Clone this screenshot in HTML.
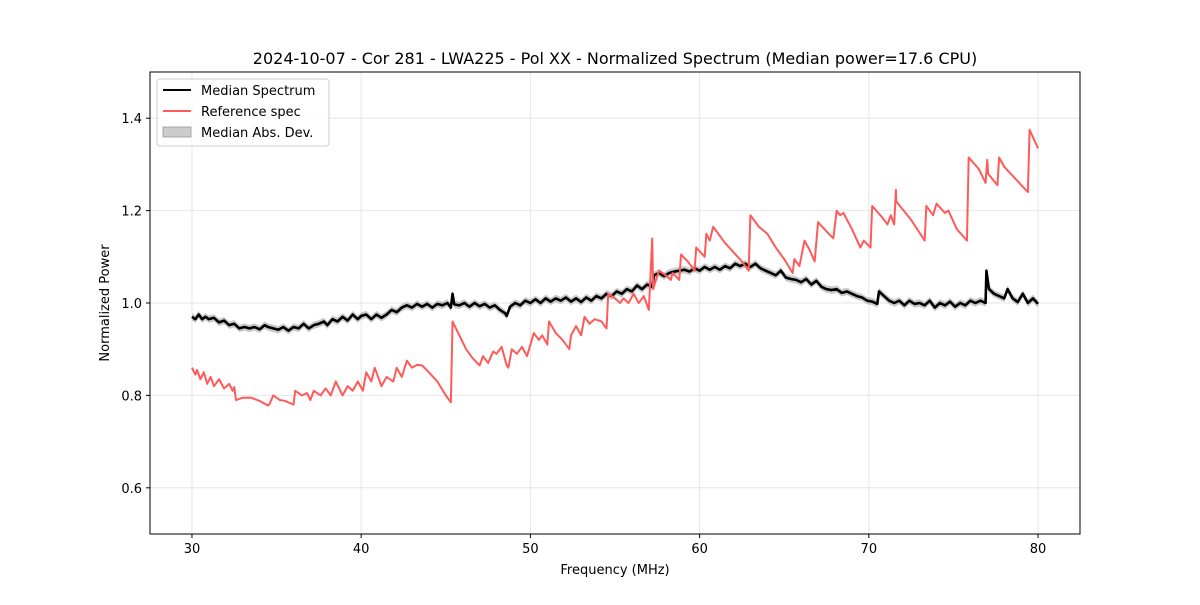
<!DOCTYPE html>
<html><head><meta charset="utf-8"><style>
body{margin:0;background:#fff}
svg{font-family:"DejaVu Sans","Liberation Sans",sans-serif}
</style></head><body>
<svg id="chart" width="1200" height="600" viewBox="0 0 1200 600">
<rect width="1200" height="600" fill="#fff"/>
<text x="615" y="64" text-anchor="middle" font-size="16">2024-10-07 - Cor 281 - LWA225 - Pol XX - Normalized Spectrum (Median power=17.6 CPU)</text>
<g id="grid"></g>
<g id="plot"></g>
<rect x="150" y="72" width="930" height="462" fill="none" stroke="#000" stroke-width="1"/>
<g id="xticks"></g>
<g id="yticks"></g>
<text x="615" y="574" text-anchor="middle" font-size="13">Frequency (MHz)</text>
<text x="109" y="303" text-anchor="middle" font-size="13" transform="rotate(-90 109 303)">Normalized Power</text>
<g>
<rect x="157" y="79" width="172" height="67" rx="3" fill="#fff" fill-opacity="0.8" stroke="#ccc"/>
<line x1="163" y1="90" x2="191" y2="90" stroke="#000" stroke-width="2"/>
<text x="201" y="95" font-size="13">Median Spectrum</text>
<line x1="163" y1="111" x2="191" y2="111" stroke="#ff5a5a" stroke-width="2"/>
<text x="201" y="116" font-size="13">Reference spec</text>
<rect x="163" y="127" width="28" height="10" fill="#ccc" stroke="#999" stroke-width="0.8"/>
<text x="201" y="137" font-size="13">Median Abs. Dev.</text>
</g>
</svg>
<script>
const xTicks=[30,40,50,60,70,80];
const yTicks=[0.6,0.8,1.0,1.2,1.4];
const yTickLabels=["0.6","0.8","1.0","1.2","1.4"];
const refFreq=[30.0,30.2,30.3,30.5,30.7,30.9,31.1,31.3,31.6,31.9,32.2,32.4,32.5,32.6,33.0,33.5,34.0,34.5,34.6,34.8,35.2,35.5,36.0,36.1,36.5,36.8,37.0,37.2,37.6,37.9,38.2,38.5,38.9,39.2,39.5,39.8,40.1,40.3,40.6,40.8,41.2,41.5,41.9,42.1,42.4,42.7,43.0,43.3,43.6,44.0,44.5,45.0,45.3,45.4,45.8,46.2,46.6,47.0,47.2,47.5,47.8,48.0,48.3,48.6,48.7,48.9,49.2,49.5,49.8,50.0,50.2,50.5,50.7,51.0,51.1,51.5,51.9,52.3,52.4,52.7,53.0,53.2,53.5,53.8,54.2,54.5,54.6,55.0,55.3,55.5,55.8,56.1,56.4,56.7,57.0,57.2,57.25,57.6,58.0,58.3,58.4,58.8,58.9,59.3,59.7,59.8,60.3,60.4,60.6,60.8,61.5,62.5,62.9,63.0,63.5,64.0,64.5,65.0,65.5,65.6,65.9,66.2,66.5,66.8,67.0,67.5,67.9,68.1,68.3,68.5,69.0,69.5,69.7,70.1,70.2,70.8,71.1,71.3,71.5,71.6,71.62,72.5,73.3,73.4,73.8,74.0,74.5,74.7,75.2,75.8,75.9,76.5,76.9,77.0,77.05,77.6,77.7,78.0,79.4,79.5,80.0];
const refPower=[0.86,0.845,0.855,0.835,0.85,0.825,0.84,0.82,0.835,0.815,0.825,0.81,0.818,0.79,0.795,0.795,0.788,0.778,0.782,0.8,0.79,0.788,0.78,0.81,0.8,0.805,0.79,0.81,0.8,0.815,0.8,0.83,0.8,0.82,0.81,0.83,0.81,0.85,0.83,0.86,0.82,0.84,0.83,0.86,0.84,0.875,0.86,0.866,0.865,0.85,0.83,0.8,0.785,0.96,0.93,0.9,0.88,0.865,0.885,0.87,0.895,0.89,0.905,0.865,0.86,0.9,0.89,0.905,0.885,0.91,0.935,0.92,0.93,0.91,0.96,0.935,0.92,0.9,0.93,0.95,0.93,0.97,0.955,0.965,0.96,0.945,1.02,1.01,1.0,1.01,1.0,1.02,1.0,1.015,0.985,1.14,1.03,1.07,1.06,1.05,1.065,1.05,1.105,1.09,1.07,1.12,1.1,1.15,1.135,1.165,1.13,1.09,1.07,1.19,1.165,1.15,1.12,1.095,1.065,1.095,1.08,1.135,1.115,1.09,1.175,1.155,1.14,1.2,1.19,1.195,1.16,1.12,1.135,1.12,1.21,1.185,1.17,1.19,1.17,1.245,1.22,1.18,1.135,1.21,1.19,1.215,1.195,1.2,1.16,1.135,1.315,1.29,1.26,1.31,1.28,1.255,1.315,1.295,1.24,1.375,1.335];
const medFreq=[30,30.2,30.4,30.6,30.8,31,31.3,31.6,31.9,32.2,32.5,32.8,33.1,33.4,33.7,34,34.3,34.5,34.8,35.1,35.4,35.7,36,36.3,36.6,36.9,37.2,37.5,37.8,38,38.3,38.6,38.9,39.2,39.5,39.8,40,40.3,40.6,40.9,41.2,41.5,41.8,42.1,42.4,42.7,43,43.3,43.6,43.9,44.2,44.5,44.8,45.1,45.3,45.4,45.5,45.8,46.1,46.4,46.7,47,47.3,47.6,47.9,48.2,48.5,48.6,48.8,49.1,49.4,49.7,50,50.3,50.6,50.9,51.2,51.5,51.8,52.1,52.4,52.7,53,53.3,53.6,53.9,54.2,54.5,54.8,55.1,55.4,55.7,56,56.3,56.6,56.9,57.2,57.3,57.6,57.9,58.2,58.5,58.8,59.1,59.4,59.7,60,60.3,60.6,60.9,61.2,61.5,61.8,62.1,62.4,62.7,63,63.3,63.6,63.9,64.2,64.5,64.8,65.1,65.4,65.7,66,66.3,66.6,66.9,67.2,67.5,67.8,68.1,68.4,68.7,69,69.3,69.6,69.9,70.2,70.5,70.6,70.9,71.2,71.5,71.8,72.1,72.4,72.7,73,73.3,73.6,73.9,74.2,74.5,74.8,75.1,75.4,75.7,76,76.3,76.6,76.9,76.95,77.1,77.4,77.7,78,78.2,78.5,78.8,79.1,79.4,79.7,80];
const medPower=[0.97,0.965,0.975,0.965,0.97,0.965,0.968,0.958,0.962,0.952,0.955,0.945,0.948,0.945,0.948,0.943,0.952,0.948,0.945,0.942,0.948,0.94,0.948,0.945,0.955,0.945,0.952,0.955,0.96,0.952,0.965,0.96,0.97,0.962,0.975,0.965,0.972,0.975,0.965,0.975,0.968,0.975,0.985,0.98,0.99,0.995,0.99,0.998,0.992,0.998,0.99,0.998,0.995,1.0,0.99,1.02,0.997,0.995,1.0,0.992,1.0,0.993,0.998,0.99,0.995,0.985,0.978,0.972,0.992,1.0,0.995,1.005,1.0,1.008,1.0,1.01,1.003,1.01,1.005,1.012,1.003,1.01,1.002,1.012,1.005,1.015,1.01,1.02,1.015,1.025,1.02,1.03,1.025,1.038,1.03,1.04,1.035,1.06,1.065,1.058,1.065,1.068,1.07,1.072,1.068,1.075,1.07,1.078,1.072,1.078,1.072,1.08,1.075,1.085,1.08,1.085,1.078,1.085,1.075,1.07,1.065,1.06,1.07,1.055,1.052,1.05,1.045,1.052,1.04,1.048,1.035,1.03,1.028,1.03,1.022,1.025,1.02,1.015,1.012,1.005,1.003,0.998,1.025,1.015,1.005,1.0,1.005,0.995,1.005,0.998,1.0,0.995,1.005,0.99,1.0,0.995,1.003,0.992,1.0,0.995,1.005,1.0,1.005,1.0,1.07,1.03,1.02,1.015,1.01,1.03,1.01,1.002,1.02,1.0,1.01,0.998];
const madWidth=[0.008];

const NS="http://www.w3.org/2000/svg";
const X0=27.52,X1=82.48,Y0=0.5,Y1=1.5,PL=150,PR=1080,PT=72,PB=534;
function sx(f){return PL+(f-X0)/(X1-X0)*(PR-PL);}
function sy(v){return PB-(v-Y0)/(Y1-Y0)*(PB-PT);}
function mk(tag,attrs,parent){const e=document.createElementNS(NS,tag);for(const k in attrs)e.setAttribute(k,attrs[k]);parent.appendChild(e);return e;}
const grid=document.getElementById('grid'),plot=document.getElementById('plot');
const xg=document.getElementById('xticks'),yg=document.getElementById('yticks');
xTicks.forEach((t,i)=>{
  const x=sx(t);
  const gl=mk('line',{x1:x,x2:x,y1:PT,y2:PB,stroke:'#e6e6e6','stroke-width':1},grid);
  
  
  const tk=mk('line',{x1:x,x2:x,y1:PB,y2:PB+4,stroke:'#000'},xg);
  
  
  const tx=mk('text',{x:x,y:PB+19,'text-anchor':'middle','font-size':13},xg);
  tx.textContent=String(t);
  
  
});
yTicks.forEach((t,i)=>{
  const y=sy(t);
  const gl=mk('line',{x1:PL,x2:PR,y1:y,y2:y,stroke:'#e6e6e6','stroke-width':1},grid);
  
  
  const tk=mk('line',{x1:PL-4,x2:PL,y1:y,y2:y,stroke:'#000'},yg);
  
  
  const tx=mk('text',{x:PL-8,y:y+5,'text-anchor':'end','font-size':13},yg);
  tx.textContent=yTickLabels[i];
  
  
});
let up=medFreq.map((f,i)=>sx(f)+','+sy(medPower[i]+madWidth[0]));
let dn=medFreq.map((f,i)=>sx(f)+','+sy(medPower[i]-madWidth[0])).reverse();
const band=mk('polygon',{points:up.concat(dn).join(' '),fill:'#bbb','fill-opacity':0.8},plot);


const med=mk('polyline',{points:medFreq.map((f,i)=>sx(f)+','+sy(medPower[i])).join(' '),fill:'none',stroke:'#000','stroke-width':2.6,'stroke-linejoin':'round'},plot);


const ref=mk('polyline',{points:refFreq.map((f,i)=>sx(f)+','+sy(refPower[i])).join(' '),fill:'none',stroke:'#ff5a5a','stroke-width':2,'stroke-linejoin':'round'},plot);


</script>
</body></html>
